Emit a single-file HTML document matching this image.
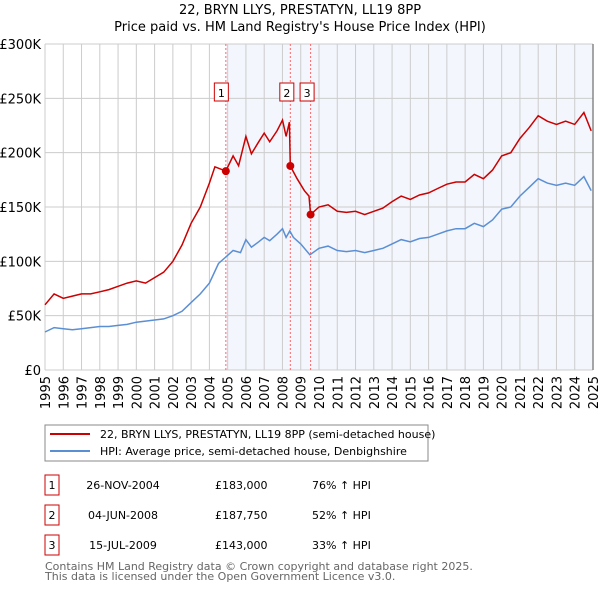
<!DOCTYPE html>
<html><head><meta charset="utf-8"><style>
body{margin:0;background:#fff}
svg text{font-family:"DejaVu Sans","Liberation Sans",sans-serif}
</style></head><body>
<svg width="600" height="590" xmlns="http://www.w3.org/2000/svg">
<g id="g"></g>
</svg>
<script>
const hpiX=[1995,1995.5,1996,1996.5,1997,1997.5,1998,1998.5,1999,1999.5,2000,2000.5,2001,2001.5,2002,2002.5,2003,2003.5,2004,2004.5,2004.9,2005.3,2005.7,2006,2006.3,2006.7,2007,2007.3,2007.7,2008,2008.2,2008.4,2008.6,2009,2009.5,2010,2010.5,2011,2011.5,2012,2012.5,2013,2013.5,2014,2014.5,2015,2015.5,2016,2016.5,2017,2017.5,2018,2018.5,2019,2019.5,2020,2020.5,2021,2021.5,2022,2022.5,2023,2023.5,2024,2024.5,2024.9];
const hpiY=[35,39,38,37,38,39,40,40,41,42,44,45,46,47,50,54,62,70,80,98,104,110,108,120,113,118,122,119,125,130,122,128,122,116,106,112,114,110,109,110,108,110,112,116,120,118,121,122,125,128,130,130,135,132,138,148,150,160,168,176,172,170,172,170,178,165];
const redX=[1995,1995.5,1996,1996.5,1997,1997.5,1998,1998.5,1999,1999.5,2000,2000.5,2001,2001.5,2002,2002.5,2003,2003.5,2004,2004.3,2004.9,2005.3,2005.6,2006,2006.3,2006.7,2007,2007.3,2007.7,2008,2008.2,2008.38,2008.43,2008.8,2009.2,2009.45,2009.54,2010,2010.5,2011,2011.5,2012,2012.5,2013,2013.5,2014,2014.5,2015,2015.5,2016,2016.5,2017,2017.5,2018,2018.5,2019,2019.5,2020,2020.5,2021,2021.5,2022,2022.5,2023,2023.5,2024,2024.5,2024.9];
const redY=[60,70,66,68,70,70,72,74,77,80,82,80,85,90,100,115,135,150,172,187,183,197,188,215,199,210,218,210,220,230,215,228,187.75,176,165,160,143,150,152,146,145,146,143,146,149,155,160,157,161,163,167,171,173,173,180,176,184,197,200,213,223,234,229,226,229,226,237,220];
const saleX=[2004.9,2008.43,2009.54];
const saleY=[183,187.75,143];
const saleLabels=["1","2","3"];
const yTicks=[0,50,100,150,200,250,300];
const yTickLabels=["£0","£50K","£100K","£150K","£200K","£250K","£300K"];
const xYears=[1995,1996,1997,1998,1999,2000,2001,2002,2003,2004,2005,2006,2007,2008,2009,2010,2011,2012,2013,2014,2015,2016,2017,2018,2019,2020,2021,2022,2023,2024,2025];
const rowDates=["26-NOV-2004","04-JUN-2008","15-JUL-2009"];
const rowPrices=["£183,000","£187,750","£143,000"];
const rowPct=["76% ↑ HPI","52% ↑ HPI","33% ↑ HPI"];

const L=45,R=593,T=44,B=370;
const sx=v=>L+(v-1995)*(R-L)/30;
const sy=v=>B-v*(B-T)/300;
const g=document.getElementById('g');
const NS="http://www.w3.org/2000/svg";
function mk(tag,attrs,txt){const e=document.createElementNS(NS,tag);for(const k in attrs)e.setAttribute(k,attrs[k]);if(txt!==undefined)e.textContent=txt;g.appendChild(e);return e;}

let e;
e=mk('text',{x:300,y:14,'text-anchor':'middle','font-size':13},'22, BRYN LLYS, PRESTATYN, LL19 8PP');


e=mk('text',{x:300,y:31,'text-anchor':'middle','font-size':13},"Price paid vs. HM Land Registry's House Price Index (HPI)");


e=mk('rect',{x:sx(saleX[0]),y:T,width:R-sx(saleX[0]),height:B-T,fill:'#f3f6fd'});


yTicks.forEach((v,i)=>{
 e=mk('line',{x1:L,x2:R,y1:sy(v),y2:sy(v),stroke:'#cccccc','stroke-width':1});
 
 
 e=mk('text',{x:L-4,y:sy(v)+5,'text-anchor':'end','font-size':13},yTickLabels[i]);
 
 
});
xYears.forEach(y=>{
 e=mk('line',{x1:sx(y),x2:sx(y),y1:T,y2:B,stroke:'#cccccc','stroke-width':1});
 
 
 e=mk('text',{x:0,y:0,'text-anchor':'end','font-size':13,transform:`translate(${sx(y)+5},376) rotate(-90)`},String(y));
 
 
});
e=mk('line',{x1:R,x2:R,y1:T,y2:B,stroke:'#888','stroke-width':1.5});


saleX.forEach((x,i)=>{
 e=mk('line',{x1:sx(x),x2:sx(x),y1:T,y2:B,stroke:'#ff6666','stroke-width':1,'stroke-dasharray':'2,2'});
 
 
});
const pts=(xs,ys)=>xs.map((x,i)=>sx(x).toFixed(1)+','+sy(ys[i]).toFixed(1)).join(' ');
e=mk('polyline',{points:pts(hpiX,hpiY),fill:'none',stroke:'#5b8fd4','stroke-width':1.5});


e=mk('polyline',{points:pts(redX,redY),fill:'none',stroke:'#cc0000','stroke-width':1.5});


const boxOff=[-4.5,-3.5,-3.5];
saleX.forEach((x,i)=>{
 e=mk('circle',{cx:sx(x),cy:sy(saleY[i]),r:4,fill:'#cc0000'});
 
 
 const bx=sx(x)+boxOff[i];
 e=mk('rect',{x:bx-7,y:83,width:14,height:18,fill:'#fff',stroke:'#cc0000','stroke-width':1});
 
 
 e=mk('text',{x:bx,y:97,'text-anchor':'middle','font-size':11},saleLabels[i]);
 
 
});
e=mk('rect',{x:45,y:425,width:383,height:36,fill:'#fff',stroke:'#888','stroke-width':1});


e=mk('line',{x1:50,x2:90,y1:434,y2:434,stroke:'#cc0000','stroke-width':2});


e=mk('text',{x:100,y:438,'font-size':11},'22, BRYN LLYS, PRESTATYN, LL19 8PP (semi-detached house)');


e=mk('line',{x1:50,x2:90,y1:451,y2:451,stroke:'#5b8fd4','stroke-width':2});


e=mk('text',{x:100,y:455,'font-size':11},'HPI: Average price, semi-detached house, Denbighshire');


rowDates.forEach((d,i)=>{
 const y=475+i*30;
 e=mk('rect',{x:45,y:y,width:14,height:20,fill:'#fff',stroke:'#cc0000','stroke-width':1});
 
 
 e=mk('text',{x:52,y:y+14,'text-anchor':'middle','font-size':11},saleLabels[i]);
 
 
 e=mk('text',{x:123,y:y+14,'text-anchor':'middle','font-size':11},d);
 
 
 e=mk('text',{x:215,y:y+14,'font-size':11},rowPrices[i]);
 
 
 e=mk('text',{x:312,y:y+14,'font-size':11},rowPct[i]);
 
 
});
e=mk('text',{x:45,y:570,'font-size':11,fill:'#666'},'Contains HM Land Registry data © Crown copyright and database right 2025.');


e=mk('text',{x:45,y:580,'font-size':11,fill:'#666'},'This data is licensed under the Open Government Licence v3.0.');


</script>
</body></html>
